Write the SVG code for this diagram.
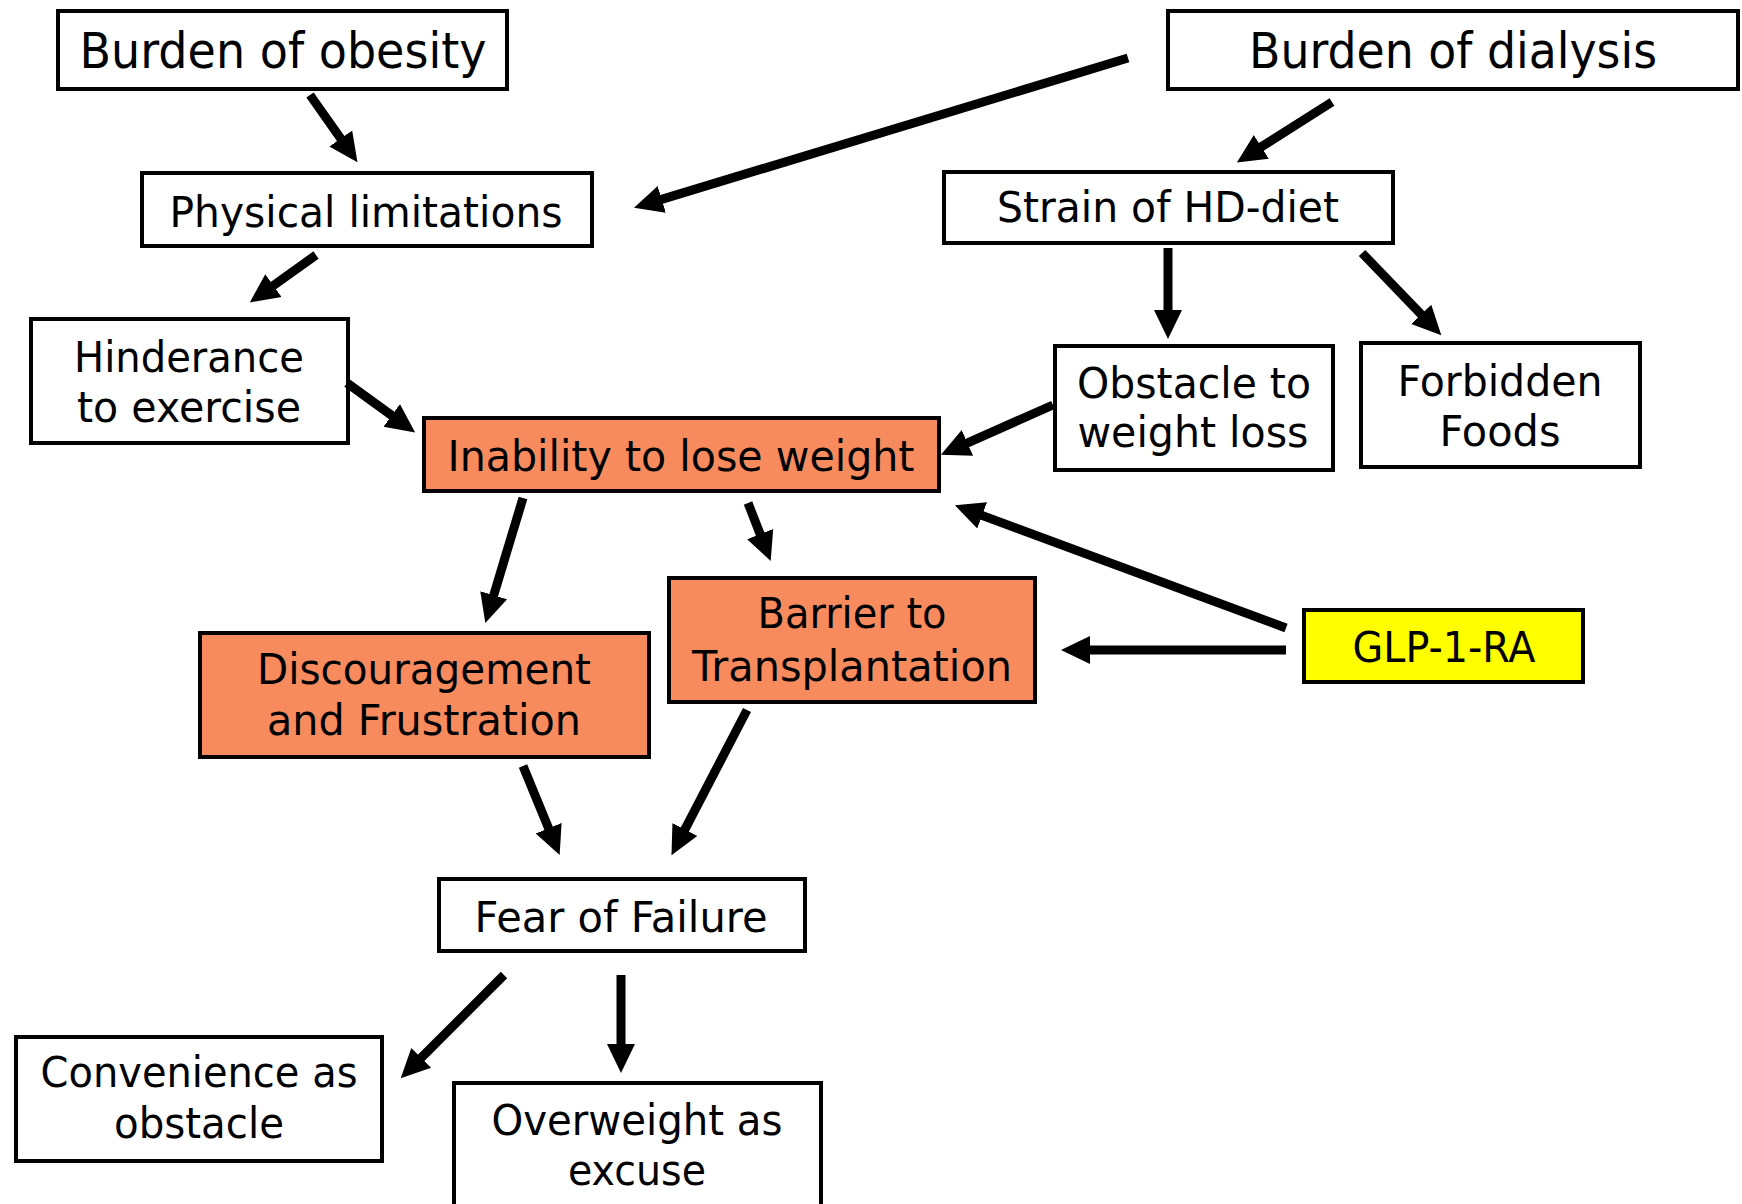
<svg xmlns="http://www.w3.org/2000/svg" width="1742" height="1204" viewBox="0 0 1742 1204">
<style>
.box{fill:#ffffff;stroke:#000000;stroke-width:4}
.hot{fill:#F88B5E;stroke:#000000;stroke-width:4}
.glp{fill:#FFFF00;stroke:#000000;stroke-width:4}
text{font-family:"DejaVu Sans","Liberation Sans",sans-serif;font-size:43px;fill:#000000;text-anchor:middle}
.big{font-size:49px}
.conn line{stroke:#000000;stroke-width:9;fill:none;marker-end:url(#ah)}
</style>
<defs>
<marker id="ah" markerUnits="userSpaceOnUse" markerWidth="30" markerHeight="30" viewBox="0 -15 30 30" refX="1" refY="0" orient="auto">
<path d="M0,-14 L29,0 L0,14 z" fill="#000000"/>
</marker>
</defs>
<rect width="1742" height="1204" fill="#ffffff"/>
<g id="n-obesity"><rect class="box" x="58" y="11" width="449" height="78"/><text class="big" x="283" y="68" textLength="407" lengthAdjust="spacingAndGlyphs">Burden of obesity</text></g>
<g id="n-dialysis"><rect class="box" x="1168" y="11" width="570" height="78"/><text class="big" x="1453" y="68" textLength="408" lengthAdjust="spacingAndGlyphs">Burden of dialysis</text></g>
<g id="n-physical"><rect class="box" x="142" y="173" width="450" height="73"/><text x="366" y="227" textLength="393" lengthAdjust="spacingAndGlyphs">Physical limitations</text></g>
<g id="n-strain"><rect class="box" x="944" y="172" width="449" height="71"/><text x="1168" y="222" textLength="342" lengthAdjust="spacingAndGlyphs">Strain of HD-diet</text></g>
<g id="n-hinderance"><rect class="box" x="31" y="319" width="317" height="124"/><text x="189" y="372" textLength="230" lengthAdjust="spacingAndGlyphs">Hinderance</text><text x="189" y="422" textLength="224" lengthAdjust="spacingAndGlyphs">to exercise</text></g>
<g id="n-obstacle"><rect class="box" x="1055" y="346" width="278" height="124"/><text x="1194" y="398" textLength="234" lengthAdjust="spacingAndGlyphs">Obstacle to</text><text x="1193" y="447" textLength="231" lengthAdjust="spacingAndGlyphs">weight loss</text></g>
<g id="n-forbidden"><rect class="box" x="1361" y="343" width="279" height="124"/><text x="1500" y="396" textLength="205" lengthAdjust="spacingAndGlyphs">Forbidden</text><text x="1500" y="446" textLength="121" lengthAdjust="spacingAndGlyphs">Foods</text></g>
<g id="n-inability"><rect class="hot" x="424" y="418" width="515" height="73"/><text x="681" y="471" textLength="467" lengthAdjust="spacingAndGlyphs">Inability to lose weight</text></g>
<g id="n-barrier"><rect class="hot" x="669" y="578" width="366" height="124"/><text x="852" y="628" textLength="189" lengthAdjust="spacingAndGlyphs">Barrier to</text><text x="852" y="681" textLength="320" lengthAdjust="spacingAndGlyphs">Transplantation</text></g>
<g id="n-discouragement"><rect class="hot" x="200" y="633" width="449" height="124"/><text x="424" y="684" textLength="334" lengthAdjust="spacingAndGlyphs">Discouragement</text><text x="424" y="735" textLength="314" lengthAdjust="spacingAndGlyphs">and Frustration</text></g>
<g id="n-glp"><rect class="glp" x="1304" y="610" width="279" height="72"/><text x="1444" y="662" textLength="183" lengthAdjust="spacingAndGlyphs">GLP-1-RA</text></g>
<g id="n-fear"><rect class="box" x="439" y="879" width="366" height="72"/><text x="621" y="932" textLength="293" lengthAdjust="spacingAndGlyphs">Fear of Failure</text></g>
<g id="n-convenience"><rect class="box" x="16" y="1037" width="366" height="124"/><text x="199" y="1087" textLength="317" lengthAdjust="spacingAndGlyphs">Convenience as</text><text x="199" y="1138" textLength="170" lengthAdjust="spacingAndGlyphs">obstacle</text></g>
<g id="n-overweight"><rect class="box" x="454" y="1083" width="367" height="140"/><text x="637" y="1135" textLength="291" lengthAdjust="spacingAndGlyphs">Overweight as</text><text x="637" y="1185" textLength="138" lengthAdjust="spacingAndGlyphs">excuse</text></g>
<g id="connectors" class="conn">
<line x1="310" y1="95" x2="341.3" y2="139.3"/>
<line x1="1128" y1="58" x2="660.8" y2="199.6"/>
<line x1="316" y1="255" x2="272.6" y2="286.1"/>
<line x1="1332" y1="102" x2="1260.5" y2="147.4"/>
<line x1="1168" y1="248" x2="1168" y2="311"/>
<line x1="1362" y1="253" x2="1421.9" y2="315.1"/>
<line x1="347" y1="383" x2="392.5" y2="416"/>
<line x1="1053" y1="405" x2="966.5" y2="443.3"/>
<line x1="523" y1="498" x2="493.4" y2="596.2"/>
<line x1="748" y1="503" x2="760.5" y2="535"/>
<line x1="1286" y1="628" x2="981.2" y2="515.1"/>
<line x1="1286" y1="650" x2="1089" y2="650"/>
<line x1="523" y1="766" x2="549" y2="829.2"/>
<line x1="747" y1="710" x2="684.4" y2="830.3"/>
<line x1="504" y1="975" x2="420.5" y2="1058.5"/>
<line x1="621" y1="975" x2="621" y2="1045"/>
</g>
</svg>
